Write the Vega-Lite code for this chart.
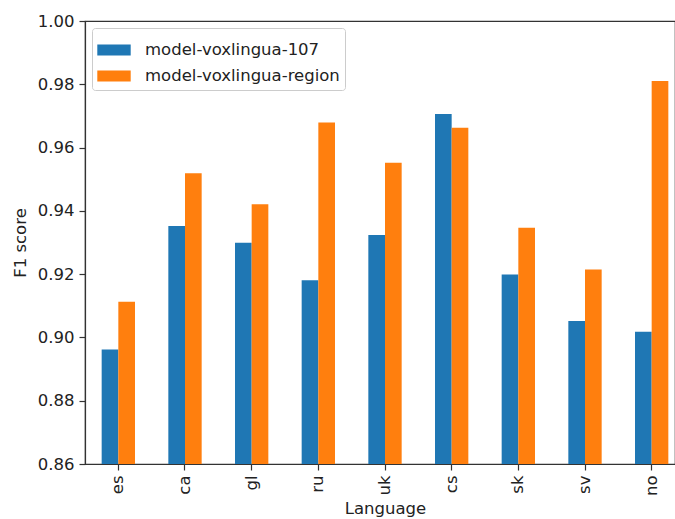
{
  "$schema": "https://vega.github.io/schema/vega-lite/v6.json",
  "autosize": "none",
  "width": 590,
  "height": 443,
  "padding": {"left": 85, "top": 21, "right": 0, "bottom": 55},
  "background": "white",
  "config": {
    "font": "DejaVu Sans",
    "view": {"stroke": "#333333", "strokeWidth": 1.2},
    "axis": {
      "labelFont": "DejaVu Sans",
      "labelFontSize": 16.5,
      "labelColor": "#222222",
      "titleFont": "DejaVu Sans",
      "titleFontSize": 16.5,
      "titleFontWeight": "normal",
      "titleColor": "#222222",
      "domainColor": "#333333",
      "domainWidth": 1.2,
      "tickColor": "#333333",
      "tickWidth": 1.2,
      "tickSize": 6,
      "labelPadding": 5,
      "grid": false
    }
  },
  "data": {
    "values": [
      {"language": "es", "model": "model-voxlingua-107", "f1": 0.8962},
      {"language": "es", "model": "model-voxlingua-region", "f1": 0.9113},
      {"language": "ca", "model": "model-voxlingua-107", "f1": 0.9352},
      {"language": "ca", "model": "model-voxlingua-region", "f1": 0.9519},
      {"language": "gl", "model": "model-voxlingua-107", "f1": 0.9299},
      {"language": "gl", "model": "model-voxlingua-region", "f1": 0.9421},
      {"language": "ru", "model": "model-voxlingua-107", "f1": 0.9181},
      {"language": "ru", "model": "model-voxlingua-region", "f1": 0.9679},
      {"language": "uk", "model": "model-voxlingua-107", "f1": 0.9324},
      {"language": "uk", "model": "model-voxlingua-region", "f1": 0.9552},
      {"language": "cs", "model": "model-voxlingua-107", "f1": 0.9706},
      {"language": "cs", "model": "model-voxlingua-region", "f1": 0.9663},
      {"language": "sk", "model": "model-voxlingua-107", "f1": 0.9199},
      {"language": "sk", "model": "model-voxlingua-region", "f1": 0.9347},
      {"language": "sv", "model": "model-voxlingua-107", "f1": 0.9052},
      {"language": "sv", "model": "model-voxlingua-region", "f1": 0.9215},
      {"language": "no", "model": "model-voxlingua-107", "f1": 0.9018},
      {"language": "no", "model": "model-voxlingua-region", "f1": 0.9810}
    ]
  },
  "mark": {"type": "bar", "clip": true},
  "encoding": {
    "x": {
      "field": "language",
      "type": "nominal",
      "sort": null,
      "title": "Language",
      "scale": {"range": [0, 600], "paddingInner": 0.5, "paddingOuter": 0.25},
      "axis": {"labelAngle": -90, "titlePadding": 5}
    },
    "xOffset": {
      "field": "model",
      "type": "nominal",
      "scale": {"paddingInner": 0, "paddingOuter": 0}
    },
    "y": {
      "field": "f1",
      "type": "quantitative",
      "title": "F1 score",
      "scale": {"domain": [0.86, 1.0], "zero": false, "nice": false},
      "axis": {
        "values": [0.86, 0.88, 0.9, 0.92, 0.94, 0.96, 0.98, 1.0],
        "format": ".2f",
        "titlePadding": 9
      }
    },
    "color": {
      "field": "model",
      "type": "nominal",
      "title": null,
      "scale": {
        "domain": ["model-voxlingua-107", "model-voxlingua-region"],
        "range": ["#1f77b4", "#ff7f0e"]
      },
      "legend": {
        "orient": "none",
        "legendX": 7,
        "legendY": 7,
        "padding": 5,
        "strokeColor": "#cccccc",
        "fillColor": "rgba(255,255,255,0.8)",
        "cornerRadius": 3,
        "symbolType": "M-1,-0.33H1V0.33H-1Z",
        "symbolSize": 1116,
        "symbolStrokeWidth": 0,
        "symbolOpacity": 1,
        "labelFont": "DejaVu Sans",
        "labelFontSize": 16.5,
        "labelColor": "#222222",
        "labelLimit": 0,
        "labelOffset": 14,
        "rowPadding": -7
      }
    }
  }
}
